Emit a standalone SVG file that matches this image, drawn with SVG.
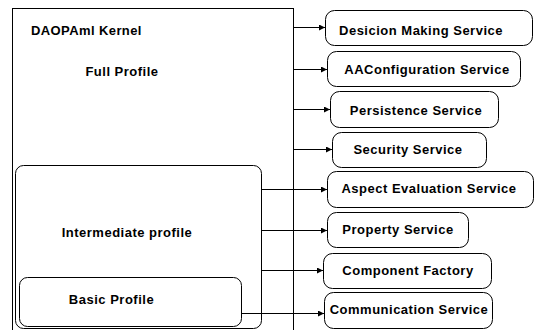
<svg xmlns="http://www.w3.org/2000/svg" width="535" height="330" viewBox="0 0 535 330">
<defs>
<style>
.box{fill:#fff;stroke:#000;stroke-width:1}
.frame{fill:none;stroke:#000;stroke-width:1}
.lbl{font-family:"Liberation Sans",Arial,sans-serif;font-weight:bold;font-size:13px;letter-spacing:0.5px;fill:#000;text-anchor:middle}
.lbl-l{font-family:"Liberation Sans",Arial,sans-serif;font-weight:bold;font-size:13px;letter-spacing:0.4px;fill:#000}
.conn{fill:none;stroke:#000;stroke-width:1}
</style>
<marker id="ah" markerWidth="6" markerHeight="6" refX="6" refY="3" orient="auto" markerUnits="userSpaceOnUse">
<path d="M0,0 L6,3 L0,6 Z" fill="#000"/>
</marker>
</defs>
<rect width="535" height="330" fill="#fff"/>
<g id="kernel">
<rect class="frame" x="12.5" y="8.5" width="281" height="340"/>
<text class="lbl-l" x="31" y="35">DAOPAml Kernel</text>
<text class="lbl" x="122" y="76">Full Profile</text>
</g>
<g id="intermediate">
<rect class="frame" x="15.5" y="165.5" width="246" height="163" rx="8"/>
<text class="lbl" x="127" y="237">Intermediate profile</text>
</g>
<g id="basic">
<rect class="box" x="19.5" y="277.5" width="222" height="49" rx="8"/>
<text class="lbl" x="111.5" y="304">Basic Profile</text>
</g>
<g id="connectors">
<line class="conn" x1="293.5" y1="8.5" x2="293.5" y2="330"/>
<line class="conn" x1="293.5" y1="27.5" x2="325" y2="27.5" marker-end="url(#ah)"/>
<line class="conn" x1="293.5" y1="69.5" x2="327" y2="69.5" marker-end="url(#ah)"/>
<line class="conn" x1="293.5" y1="109.5" x2="330" y2="109.5" marker-end="url(#ah)"/>
<line class="conn" x1="293.5" y1="149.5" x2="332" y2="149.5" marker-end="url(#ah)"/>
<line class="conn" x1="261.5" y1="189.5" x2="327" y2="189.5" marker-end="url(#ah)"/>
<line class="conn" x1="261.5" y1="230.5" x2="327" y2="230.5" marker-end="url(#ah)"/>
<line class="conn" x1="261.5" y1="270.5" x2="323" y2="270.5" marker-end="url(#ah)"/>
<line class="conn" x1="241.5" y1="313.5" x2="324" y2="313.5" marker-end="url(#ah)"/>
</g>
<g id="decision">
<rect class="box" x="325.5" y="10.5" width="207" height="35" rx="9"/>
<text class="lbl" x="421" y="34.5">Desicion Making Service</text>
</g>
<g id="aaconfig">
<rect class="box" x="327.5" y="51.5" width="193" height="35" rx="9"/>
<text class="lbl" x="427" y="74">AAConfiguration Service</text>
</g>
<g id="persistence">
<rect class="box" x="330.5" y="91.5" width="168" height="36" rx="9"/>
<text class="lbl" x="416" y="115">Persistence Service</text>
</g>
<g id="security">
<rect class="box" x="332.5" y="132.5" width="154" height="35" rx="9"/>
<text class="lbl" x="408" y="153.5">Security Service</text>
</g>
<g id="aspect">
<rect class="box" x="327.5" y="171.5" width="206" height="36" rx="9"/>
<text class="lbl" x="429" y="193">Aspect Evaluation Service</text>
</g>
<g id="property">
<rect class="box" x="327.5" y="212.5" width="141" height="35" rx="9"/>
<text class="lbl" x="398" y="233.5">Property Service</text>
</g>
<g id="component">
<rect class="box" x="323.5" y="253.5" width="168" height="35" rx="9"/>
<text class="lbl" x="408" y="275">Component Factory</text>
</g>
<g id="communication">
<rect class="box" x="324.5" y="292.5" width="168" height="36" rx="9"/>
<text class="lbl" x="409" y="314">Communication Service</text>
</g>
</svg>
